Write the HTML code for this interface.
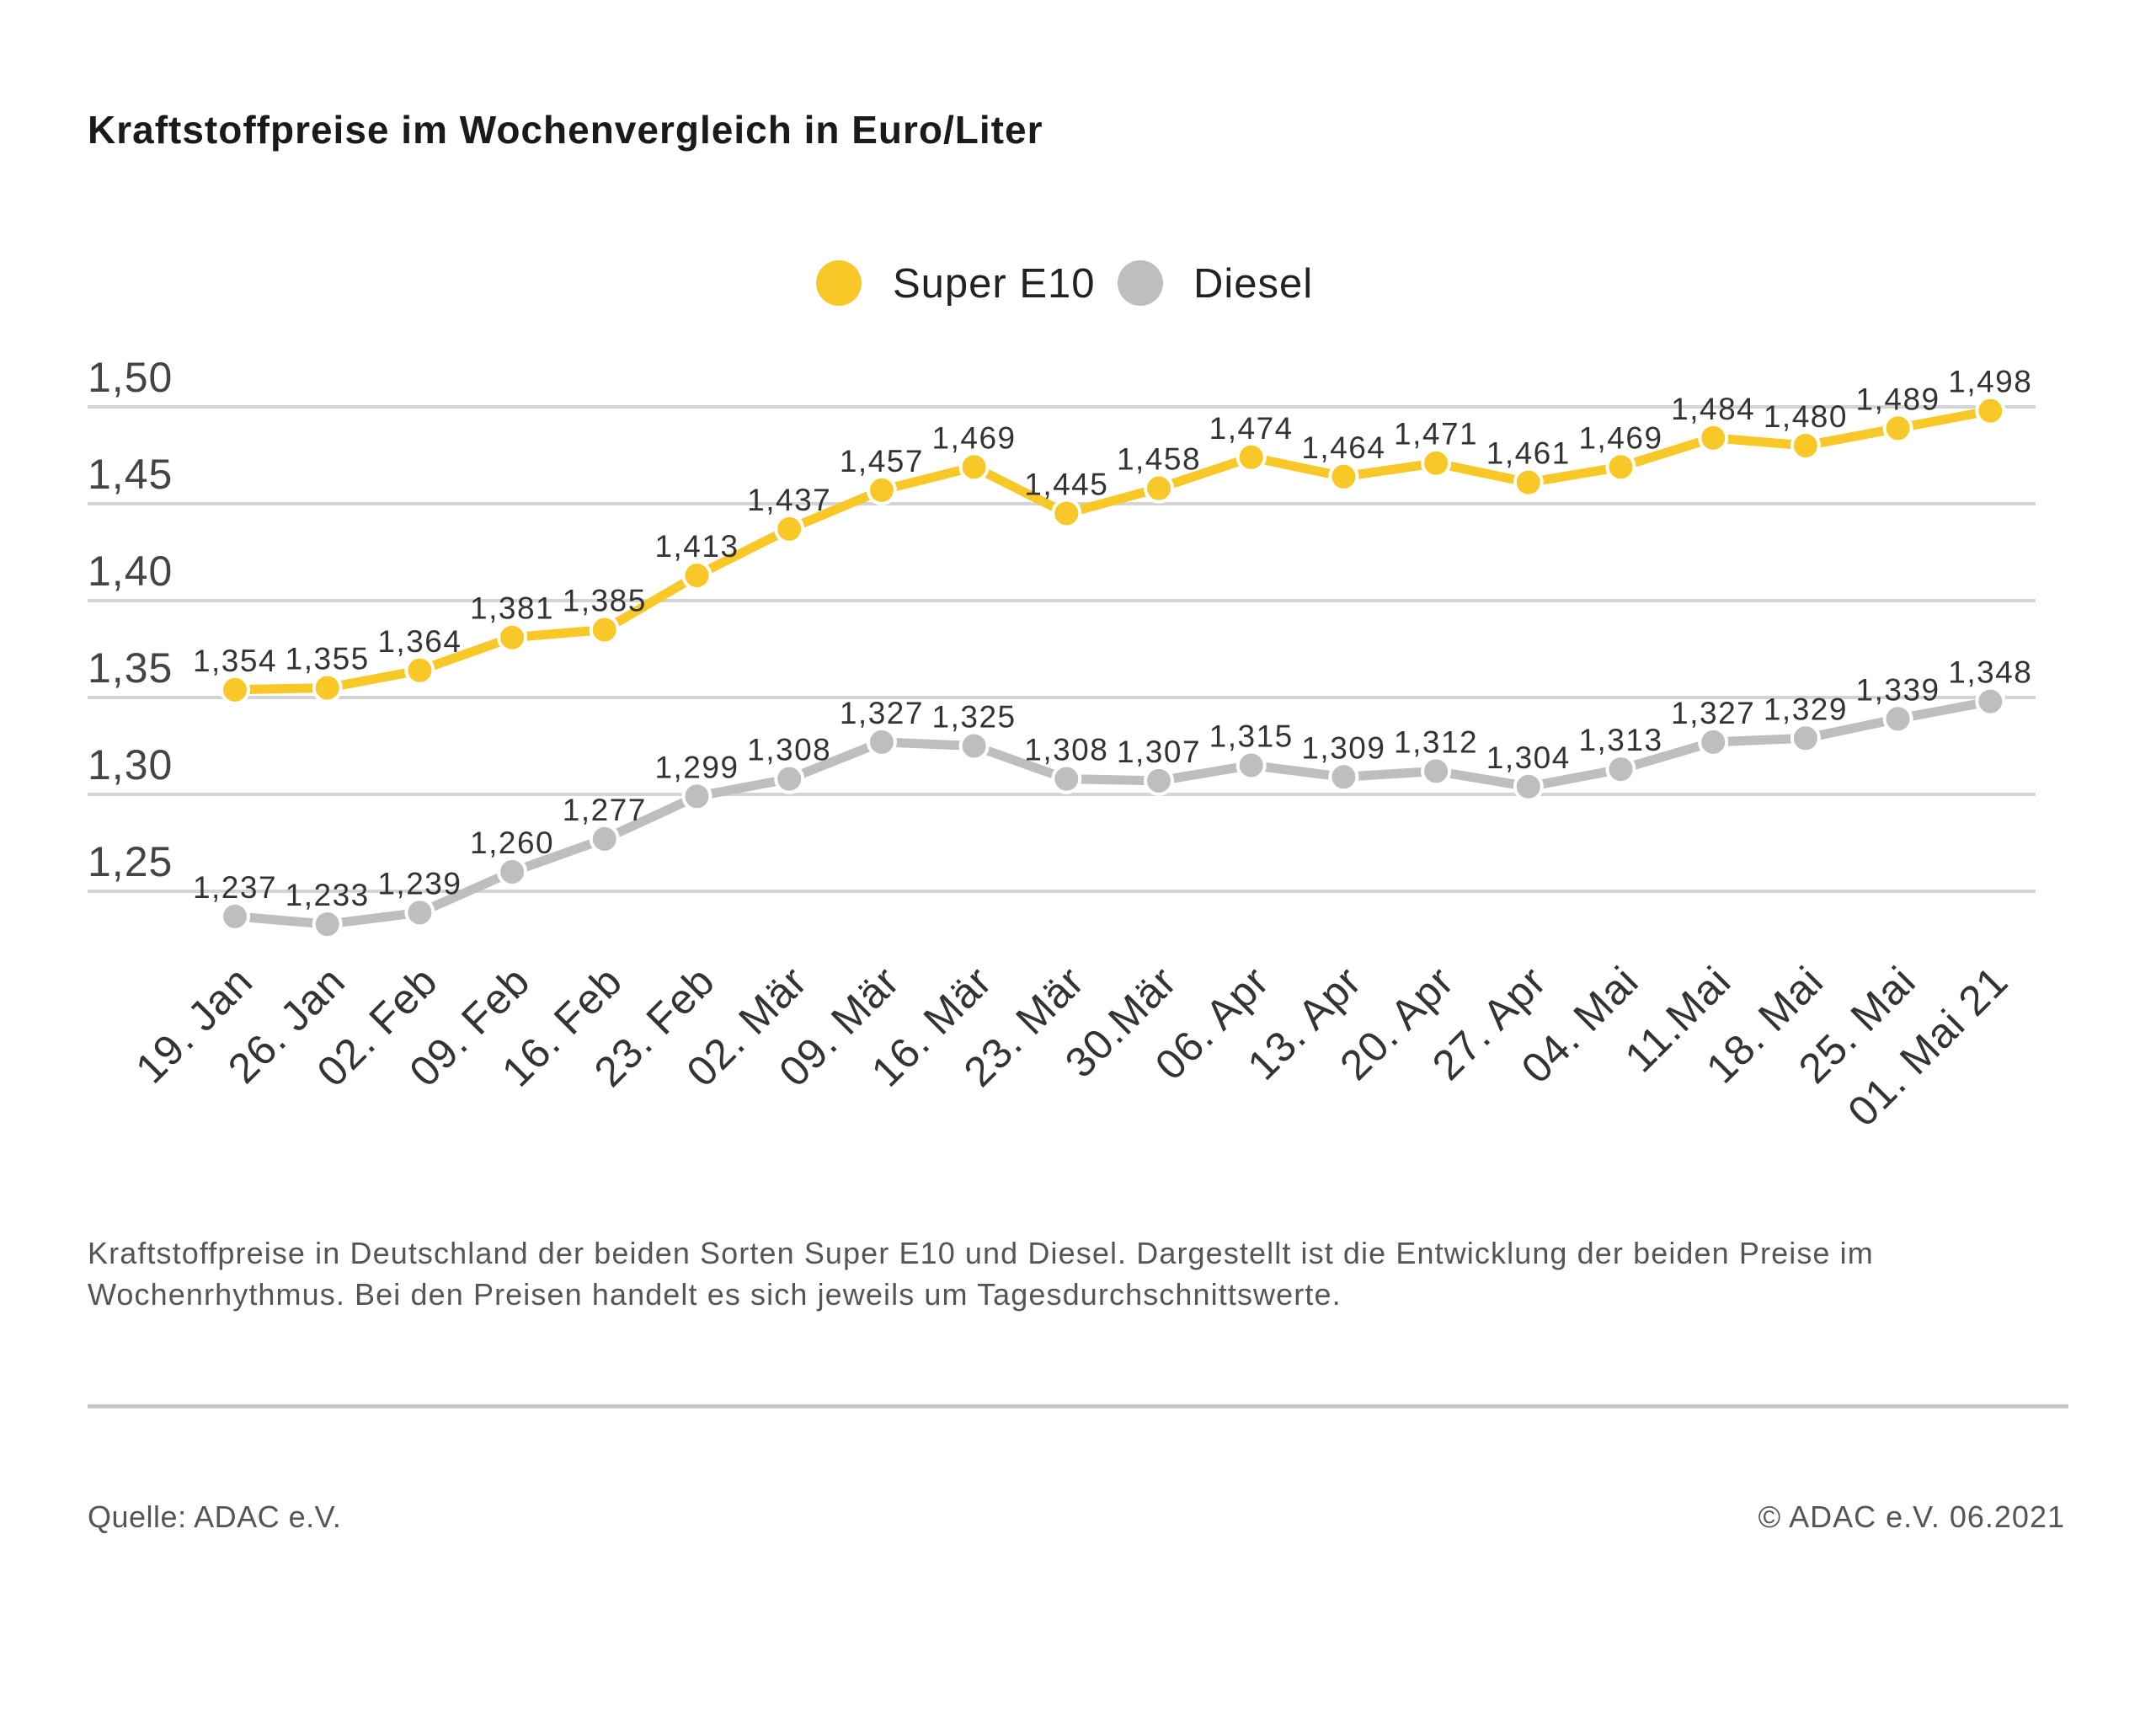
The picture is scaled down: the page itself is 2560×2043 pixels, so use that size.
<!DOCTYPE html>
<html><head><meta charset="utf-8"><style>
html,body{margin:0;padding:0;background:#fff;}
body{width:2560px;height:2038px;overflow:hidden;font-family:"Liberation Sans",sans-serif;}
</style></head><body>
<svg id="s" width="2560" height="2038" xmlns="http://www.w3.org/2000/svg" font-family="Liberation Sans, sans-serif">
<text x="104" y="170" font-size="46" font-weight="bold" fill="#1a1a1a" letter-spacing="1">Kraftstoffpreise im Wochenvergleich in Euro/Liter</text>
<circle cx="996" cy="336" r="27" fill="#f8c829"/>
<text x="1060" y="353" font-size="49" fill="#222" letter-spacing="1">Super E10</text>
<circle cx="1354" cy="336" r="27" fill="#bebebe"/>
<text x="1417" y="353" font-size="49" fill="#222" letter-spacing="1">Diesel</text>
<g id="grid"></g>
<g id="series"></g>
<text x="104" y="1500" font-size="36" fill="#555" letter-spacing="1.1">Kraftstoffpreise in Deutschland der beiden Sorten Super E10 und Diesel. Dargestellt ist die Entwicklung der beiden Preise im</text>
<text x="104" y="1549" font-size="36" fill="#555" letter-spacing="1.1">Wochenrhythmus. Bei den Preisen handelt es sich jeweils um Tagesdurchschnittswerte.</text>
<rect x="104" y="1667" width="2352" height="5" fill="#c8c8c8"/>
<text x="104" y="1813" font-size="36" fill="#555" letter-spacing="0.5">Quelle: ADAC e.V.</text>
<text x="2452" y="1813" font-size="36" fill="#555" text-anchor="end" letter-spacing="1">© ADAC e.V. 06.2021</text>
</svg>
<script>
var NS="http://www.w3.org/2000/svg";
function el(t,a,p,txt){var e=document.createElementNS(NS,t);for(var k in a)e.setAttribute(k,a[k]);if(txt!==undefined)e.textContent=txt;p.appendChild(e);return e;}
var g=document.getElementById('grid'),s=document.getElementById('series');
var ticks=["1,50","1,45","1,40","1,35","1,30","1,25"];
for(var i=0;i<6;i++){var y=483+i*115;
el('rect',{x:104,y:y-2,width:2313,height:4,fill:'#d4d4d4'},g);
el('text',{x:104,y:y-18,'font-size':50,fill:'#444','letter-spacing':1},g,ticks[i]);}
var e10=[1.354,1.355,1.364,1.381,1.385,1.413,1.437,1.457,1.469,1.445,1.458,1.474,1.464,1.471,1.461,1.469,1.484,1.480,1.489,1.498];
var di=[1.237,1.233,1.239,1.260,1.277,1.299,1.308,1.327,1.325,1.308,1.307,1.315,1.309,1.312,1.304,1.313,1.327,1.329,1.339,1.348];
var lab=["19. Jan","26. Jan","02. Feb","09. Feb","16. Feb","23. Feb","02. Mär","09. Mär","16. Mär","23. Mär","30.Mär","06. Apr","13. Apr","20. Apr","27. Apr","04. Mai","11.Mai","18. Mai","25. Mai","01. Mai 21"];
function X(i){return 279+109.7*i;}function Y(v){return 483+(1.5-v)*2300;}
function draw(d,c){var pts=d.map(function(v,i){return X(i)+','+Y(v)}).join(' ');
el('polyline',{points:pts,fill:'none',stroke:c,'stroke-width':11,'stroke-linejoin':'round'},s);
d.forEach(function(v,i){el('circle',{cx:X(i),cy:Y(v),r:16,fill:c,stroke:'#fff','stroke-width':4},s);
el('text',{x:X(i),y:Y(v)-22,'font-size':37,fill:'#333','text-anchor':'middle','letter-spacing':1.5},s,v.toFixed(3).replace('.',','));});}
draw(di,'#bebebe');draw(e10,'#f8c829');
lab.forEach(function(l,i){var x=X(i)+24,y=1168;
el('text',{x:x,y:y,'font-size':50,fill:'#333','text-anchor':'end','letter-spacing':1,transform:'rotate(-45 '+x+' '+y+')'},s,l);});
</script>
</body></html>
